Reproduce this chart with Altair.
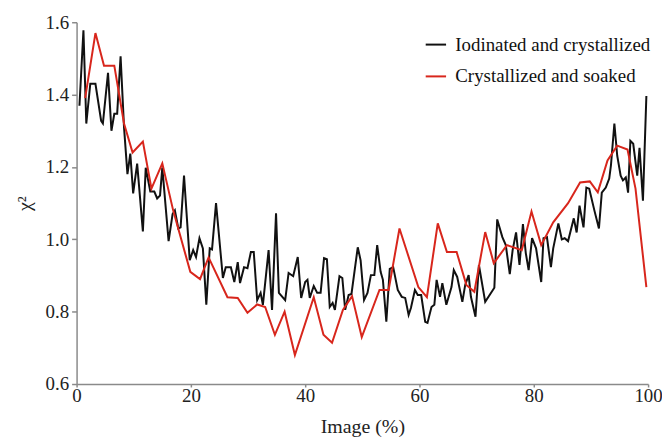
import altair as alt
import pandas as pd

SERIES = ["Iodinated and crystallized", "Crystallized and soaked"]

black_x = [0.5, 1.2, 1.7, 2.4, 3.3, 4.3, 4.6, 5.5, 6.1, 6.6, 7.1, 7.7, 8.3, 8.9, 9.4, 9.9, 10.6, 11.6, 12.1, 12.9,
           13.6, 14.1, 14.6, 15.0, 16.1, 16.8, 17.2, 17.8, 18.2, 18.8, 19.8, 20.4, 20.9, 21.5, 22.1, 22.7, 23.3, 23.7,
           24.4, 25.6, 26.1, 27.0, 27.6, 28.2, 28.6, 29.3, 29.9, 30.5, 31.0, 31.6, 32.2, 32.6, 33.6, 34.2, 34.9, 35.4,
           36.5, 37.1, 37.9, 38.7, 39.3, 40.0, 40.4, 40.8, 41.5, 42.1, 42.7, 43.3, 43.8, 44.3, 44.8, 45.2, 46.0, 46.5,
           47.0, 47.6, 48.1, 49.2, 49.7, 50.3, 50.9, 51.5, 52.1, 52.6, 53.2, 53.6, 54.2, 54.8, 55.4, 56.2, 56.9, 57.5,
           58.1, 58.5, 59.2, 59.7, 60.3, 61.0, 61.4, 62.1, 62.6, 63.0, 63.6, 64.0, 64.7, 65.6, 66.0, 66.6, 67.5, 68.0,
           68.6, 69.0, 69.8, 70.4, 71.5, 73.1, 73.6, 74.5, 75.1, 75.8, 76.3, 76.9, 77.5, 78.1, 78.6, 79.1, 79.7, 80.4,
           81.3, 81.7, 82.3, 83.0, 83.4, 84.3, 84.9, 85.4, 86.0, 87.0, 87.5, 88.0, 88.7, 89.2, 89.7, 90.6, 91.4, 91.9,
           92.6, 93.2, 93.5, 94.1, 94.6, 95.2, 95.6, 96.1, 96.5, 96.9, 97.4, 98.1, 98.5, 99.1, 99.7]
black_y = [1.369, 1.578, 1.32, 1.43, 1.43, 1.327, 1.32, 1.46, 1.30, 1.347, 1.347, 1.506, 1.31, 1.18, 1.237, 1.127,
           1.209, 1.022, 1.198, 1.132, 1.132, 1.113, 1.121, 1.198, 0.995, 1.07, 1.08, 1.03, 1.033, 1.176, 0.942, 0.97,
           0.951, 1.003, 0.975, 0.819, 0.975, 0.972, 1.10, 0.893, 0.923, 0.923, 0.882, 0.937, 0.879, 0.923, 0.92,
           0.965, 0.965, 0.832, 0.852, 0.819, 0.97, 0.805, 1.072, 0.852, 0.832, 0.907, 0.898, 0.951, 0.838, 0.882,
           0.888, 0.838, 0.871, 0.852, 0.852, 0.948, 0.945, 0.813, 0.824, 0.805, 0.898, 0.893, 0.805, 0.846, 0.849,
           0.978, 0.942, 0.832, 0.852, 0.901, 0.901, 0.984, 0.91, 0.888, 0.772, 0.918, 0.923, 0.86, 0.841, 0.838,
           0.791, 0.81, 0.86, 0.846, 0.846, 0.772, 0.769, 0.813, 0.819, 0.888, 0.841, 0.879, 0.819, 0.868, 0.915,
           0.896, 0.827, 0.874, 0.901, 0.841, 0.786, 0.929, 0.827, 0.866, 1.055, 1.006, 0.984, 0.904, 0.97, 1.019,
           0.929, 1.042, 0.962, 0.915, 1.003, 0.975, 0.882, 1.003, 1.006, 0.923, 0.975, 1.044, 1.0, 1.003, 0.995,
           1.058, 1.019, 1.093, 1.033, 1.143, 1.14, 1.08, 1.03, 1.129, 1.143, 1.168, 1.204, 1.32, 1.231, 1.176, 1.163,
           1.171, 1.129, 1.272, 1.264, 1.176, 1.253, 1.107, 1.396]

red_x = [1.5, 3.3, 4.8, 6.6, 8.3, 9.8, 11.6, 13.1, 15.0, 16.9, 19.9, 21.6, 23.1, 26.4, 28.2, 29.9, 31.6, 33.0, 34.7,
         36.4, 38.2, 41.5, 43.2, 44.7, 46.6, 48.2, 49.9, 53.0, 54.6, 56.5, 59.8, 61.3, 63.2, 64.8, 66.5, 68.2, 69.6,
         71.5, 73.0, 75.3, 77.9, 79.6, 81.3, 83.4, 86.0, 88.1, 89.8, 91.2, 92.9, 94.6, 96.4, 97.8, 99.7]
red_y = [1.39, 1.57, 1.48, 1.48, 1.32, 1.24, 1.27, 1.14, 1.21, 1.08, 0.91, 0.89, 0.95, 0.84, 0.838, 0.797, 0.82,
         0.813, 0.736, 0.80, 0.68, 0.84, 0.736, 0.714, 0.805, 0.843, 0.73, 0.86, 0.86, 1.03, 0.868, 0.84, 1.044,
         0.965, 0.965, 0.874, 0.855, 1.02, 0.934, 0.984, 0.97, 1.077, 0.984, 1.047, 1.1, 1.157, 1.16, 1.13, 1.218,
         1.259, 1.248, 1.14, 0.868]

x_ticks = [0, 20, 40, 60, 80, 100]
y_ticks = [0.6, 0.8, 1.0, 1.2, 1.4, 1.6]

df = pd.concat([
    pd.DataFrame({"x": black_x, "y": black_y, "series": SERIES[0]}),
    pd.DataFrame({"x": red_x, "y": red_y, "series": SERIES[1]}),
])

FONT = "Liberation Serif"

color = alt.Color(
    "series:N",
    scale=alt.Scale(domain=SERIES, range=["#111111", "#d8261c"]),
    legend=alt.Legend(
        title=None, orient="none", legendX=350, legendY=11,
        symbolType="stroke", symbolSize=420, symbolStrokeWidth=2,
        labelFont=FONT, labelFontSize=19, labelColor="#111111", labelLimit=0,
        rowPadding=10, labelOffset=8,
    ),
)

base = alt.Chart(df).mark_line(strokeWidth=2).encode(
    x=alt.X("x:Q", scale=alt.Scale(domain=[0, 100], nice=False),
            axis=alt.Axis(values=x_ticks, title="Image (%)", format="d", labelFlush=False,
                          tickSize=3, labelPadding=0, titlePadding=11)),
    y=alt.Y("y:Q", scale=alt.Scale(domain=[0.6, 1.6], nice=False, zero=False),
            axis=alt.Axis(values=y_ticks, title="χ²", format=".1f", labelFlush=False,
                          tickSize=5, labelPadding=3, titlePadding=11)),
    color=color,
)

black = base.transform_filter(alt.datum.series == SERIES[0])
red = base.transform_filter(alt.datum.series == SERIES[1])

chart = alt.layer(black, red).properties(
    width=575, height=364,
    autosize=alt.AutoSizeParams(type="none"),
    padding={"left": 69, "top": 13, "right": 14, "bottom": 55},
).configure_view(stroke=None).configure_axis(
    grid=False, domainColor="#8a8a8a", tickColor="#8a8a8a", domainWidth=1.5, tickWidth=1.5,
    labelFont=FONT, labelFontSize=19, labelColor="#222222",
    titleFont=FONT, titleFontSize=20, titleFontWeight="normal", titleColor="#222222",
)

chart.save("out.html", embed_options={"renderer": "svg", "actions": False})
